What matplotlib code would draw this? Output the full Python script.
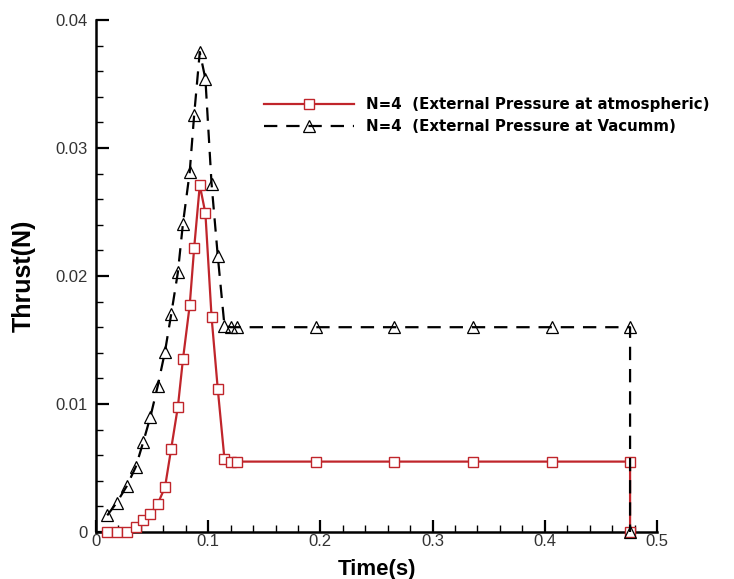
import matplotlib
matplotlib.use("Agg")
import matplotlib.pyplot as plt
from matplotlib.ticker import MultipleLocator

# Data
time_s = [0.010, 0.0185, 0.0275, 0.0355, 0.042, 0.0485, 0.055, 0.0615, 0.067,
          0.073, 0.0775, 0.0835, 0.0875, 0.0925, 0.0975, 0.103, 0.1085, 0.1145,
          0.120, 0.126, 0.196, 0.266, 0.336, 0.406, 0.476, 0.476]
thrust_atm = [0.0, 0.0, 0.0, 0.0004, 0.0009, 0.0014, 0.0022, 0.0035, 0.0065,
              0.0098, 0.0135, 0.0177, 0.0222, 0.0271, 0.0249, 0.0168, 0.0112,
              0.0057, 0.0055, 0.0055, 0.0055, 0.0055, 0.0055, 0.0055, 0.0055, 0.0]
thrust_vac = [0.0013, 0.0023, 0.0036, 0.0051, 0.0070, 0.0090, 0.0114, 0.0141,
              0.0170, 0.0203, 0.0241, 0.0281, 0.0326, 0.0375, 0.0354, 0.0272,
              0.0216, 0.0161, 0.0160, 0.0160, 0.0160, 0.0160, 0.0160, 0.0160,
              0.0160, 0.0]
label_atm = "N=4  (External Pressure at atmospheric)"
label_vac = "N=4  (External Pressure at Vacumm)"
xticks = [0, 0.1, 0.2, 0.3, 0.4, 0.5]
xticklabels = ["0", "0.1", "0.2", "0.3", "0.4", "0.5"]
yticks = [0, 0.01, 0.02, 0.03, 0.04]
yticklabels = ["0", "0.01", "0.02", "0.03", "0.04"]

plt.rcParams['font.family'] = ['Liberation Sans', 'DejaVu Sans']

fig = plt.figure(figsize=(7.34, 5.79), dpi=100)
ax = fig.add_axes([96/734, 47/579, 561/734, 512/579])

red = '#c0252b'
ax.plot(time_s, thrust_atm, color=red, lw=1.6, marker='s', ms=7,
        mfc='white', mec=red, mew=1.0, label=label_atm, clip_on=False, zorder=3)
ax.plot(time_s, thrust_vac, color='black', lw=1.6, ls=(0, (6, 4)), marker='^',
        ms=8.5, mfc='none', mec='black', mew=0.9, label=label_vac,
        clip_on=False, zorder=4)

ax.set_xlim(0, 0.5)
ax.set_ylim(0, 0.04)
ax.set_xticks(xticks)
ax.set_xticklabels(xticklabels)
ax.set_yticks(yticks)
ax.set_yticklabels(yticklabels)
ax.xaxis.set_minor_locator(MultipleLocator(0.02))
ax.yaxis.set_minor_locator(MultipleLocator(0.002))
ax.tick_params(which='major', direction='in', length=9, width=1.6,
               labelsize=12, labelcolor='#333333')
ax.tick_params(axis='x', which='major', pad=1.5)
ax.tick_params(axis='y', which='major', pad=6)
ax.tick_params(which='minor', direction='in', length=5, width=1.0)
for s in ['top', 'right']:
    ax.spines[s].set_visible(False)
for s in ['left', 'bottom']:
    ax.spines[s].set_linewidth(1.8)

ax.set_xlabel("Time(s)", fontsize=16, fontweight='bold', labelpad=7)
ax.set_ylabel("Thrust(N)", fontsize=18, fontweight='bold', labelpad=14)

leg = ax.legend(loc='upper left', bbox_to_anchor=(250/734, 1 - 84/579),
                bbox_transform=fig.transFigure, frameon=False,
                prop={'family': 'DejaVu Sans', 'weight': 'bold', 'size': 10.8},
                handlelength=6.0, handletextpad=0.8, numpoints=1,
                labelspacing=0.45)

fig.savefig("out.png", dpi=100)
